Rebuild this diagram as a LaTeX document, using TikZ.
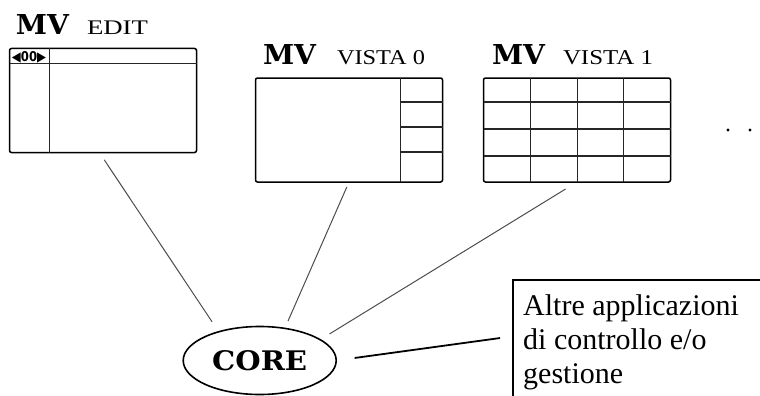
\documentclass[tikz,border=0pt]{standalone}
\usepackage{fontspec}
\setmainfont{Liberation Serif}
\newfontfamily\mvfont{DejaVu Serif}
\newfontfamily\tabfont{DejaVu Sans}
\usepackage{graphicx}
\usetikzlibrary{shapes.geometric}
\tikzset{
  screen/.style={draw, line width=1.5pt, rounded corners=2pt, inner sep=0pt, outer sep=0pt,
    minimum width=187pt, minimum height=104pt},
  gridline/.style={line width=1.1pt, black!85},
  link/.style={line width=1pt, black!70},
  title/.style={anchor=base west, inner sep=0pt, outer sep=0pt},
}
\newcommand{\mvtag}{\resizebox{53pt}{20pt}{\mvfont\bfseries MV}}
\begin{document}
\begin{tikzpicture}[x=1pt,y=-1pt]
\useasboundingbox (0,0) rectangle (760,396);

% screens
\node[screen] (edit) at (103,100.5) {};
\node[screen] (vista0) at (349,130) {};
\node[screen] (vista1) at (577,130) {};

\begin{scope}[shift={(edit.north west)}]
  \draw[gridline] (0,15) -- (187,15);
  \draw[gridline] (40,0) -- (40,104);
\end{scope}
\node[inner sep=0pt] (edittab) at (29,57) {\resizebox{34pt}{10pt}{\tabfont\bfseries ◀00▶}};

\begin{scope}[shift={(vista0.north west)}]
  \draw[gridline] (145,0) -- (145,104);
  \draw[gridline] (145,24) -- (187,24);
  \draw[gridline] (145,49) -- (187,49);
  \draw[gridline] (145,74) -- (187,74);
\end{scope}

\begin{scope}[shift={(vista1.north west)}]
  \draw[gridline] (47,0) -- (47,104);
  \draw[gridline] (94,0) -- (94,104);
  \draw[gridline] (140,0) -- (140,104);
  \draw[gridline] (0,24) -- (187,24);
  \draw[gridline] (0,51) -- (187,51);
  \draw[gridline] (0,78) -- (187,78);
\end{scope}

% titles
\node[title] (mv1) at (16,35) {\mvtag};
\node[title] (t1) at (87,34.3) {\resizebox{61pt}{13.6pt}{EDIT}};
\node[title] (mv2) at (263,65) {\mvtag};
\node[title] (t2) at (337,64.3) {\resizebox{88pt}{14pt}{VISTA 0}};
\node[title] (mv3) at (492,65) {\mvtag};
\node[title] (t3) at (563,64.3) {\resizebox{90pt}{14pt}{VISTA 1}};

% more dots
\fill (728,130) circle (1.6);
\fill (750,130) circle (1.6);

% core
\node[ellipse, draw, line width=1.6pt, minimum width=153pt, minimum height=68pt,
  inner sep=0pt, outer sep=0pt] (core) at (259.7,360.5)
  {\resizebox{95pt}{20pt}{\mvfont\bfseries CORE}};

% other applications
\node[draw, line width=1.3pt, anchor=north west, minimum width=300pt, minimum height=160pt,
  inner sep=0pt, outer sep=0pt] (panel) at (513,280) {};
\node[anchor=base west, inner sep=0pt] (paneltext) at (523,315)
  {\fontsize{30pt}{34pt}\selectfont\parbox[t]{236pt}{\raggedright Altre applicazioni\\di controllo e/o\\gestione}};

% connectors
\draw[link, shorten <=8.8pt, shorten >=12pt] (edit.266) -- (core.145);
\draw[link, shorten <=5.5pt, shorten >=8pt] (vista0.south) -- (core.52.9);
\draw[link, shorten <=13.4pt, shorten >=11pt] (vista1.south) -- (core.19.7);
\draw[line width=1.8pt, shorten <=18.6pt, shorten >=13.1pt] (core.0) -- (panel.171);
\end{tikzpicture}
\end{document}
